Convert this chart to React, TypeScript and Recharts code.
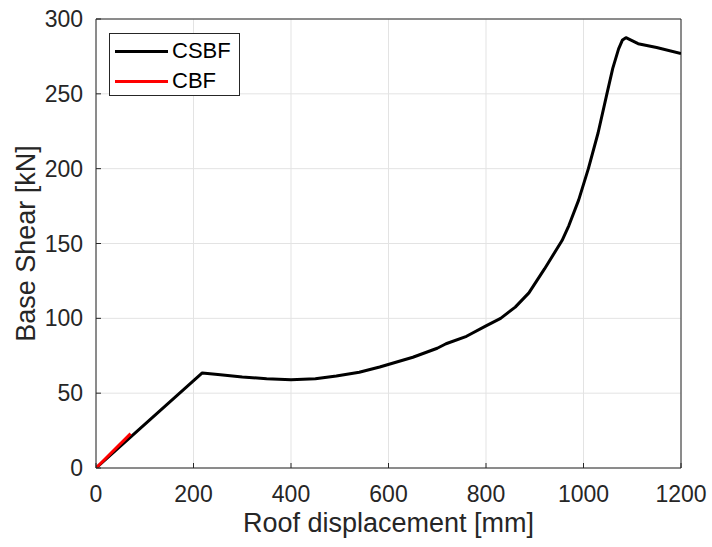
import {
  LineChart,
  Line,
  XAxis,
  YAxis,
  CartesianGrid,
  ReferenceLine,
} from "recharts";

// CSBF pushover curve
const csbfDisp = [0, 218, 250, 300, 350, 400, 450, 493, 540, 582, 650, 700, 718, 760, 800, 830, 860, 888, 920, 956, 970, 990, 1010, 1030, 1048, 1060, 1072, 1080, 1087, 1112, 1150, 1200];
const csbfShear = [0, 63.5, 62.5, 60.8, 59.6, 58.9, 59.6, 61.5, 64, 67.5, 74, 80, 83, 88, 95, 100, 107.5, 117, 133, 152, 162, 179, 200, 224, 250, 267, 280, 286, 287.5, 283.5, 281, 277];

// CBF curve
const cbfDisp = [0, 71];
const cbfShear = [0, 23];

const xTicks = [0, 200, 400, 600, 800, 1000, 1200];
const yTicks = [0, 50, 100, 150, 200, 250, 300];

const seriesNames = ["CSBF", "CBF"];
const seriesColors = ["#000000", "#ff0000"];

const csbfData = csbfDisp.map((x, i) => ({ x, y: csbfShear[i] }));
const cbfData = cbfDisp.map((x, i) => ({ x, y: cbfShear[i] }));

const FONT = "'Liberation Sans', Arial, Helvetica, sans-serif";
const TEXT = "#262626";

function LegendBox() {
  return (
    <div
      style={{
        position: "absolute",
        left: 109,
        top: 33,
        width: 131,
        height: 63,
        border: "1px solid #262626",
        background: "#fff",
        boxSizing: "border-box",
        fontFamily: FONT,
        fontSize: 22,
        color: "#000",
        padding: "2px 0 0 5px",
      }}
    >
      {seriesNames.map((name, i) => (
        <div key={name} style={{ display: "flex", alignItems: "center", height: 30 }}>
          <div style={{ width: 53, height: 3, background: seriesColors[i], marginRight: 4 }} />
          <span>{name}</span>
        </div>
      ))}
    </div>
  );
}

export default function App() {
  return (
    <div style={{ position: "absolute", left: 0, top: 0, width: 712, height: 547, background: "#fff" }}>
      <LineChart
        width={712}
        height={547}
        margin={{ top: 19, right: 31, bottom: 0, left: 0 }}
        style={{ fontFamily: FONT }}
      >
        <CartesianGrid stroke="#e3e3e3" strokeWidth={1} />
        <XAxis
          dataKey="x"
          type="number"
          domain={[0, 1200]}
          ticks={xTicks}
          allowDataOverflow
          height={79}
          stroke={TEXT}
          tickSize={-5}
          tickMargin={23}
          tick={{ fill: TEXT, fontSize: 23 }}
          label={{
            value: "Roof displacement [mm]",
            position: "insideBottom",
            offset: 15,
            fill: TEXT,
            fontSize: 27,
          }}
        />
        <YAxis
          dataKey="y"
          type="number"
          domain={[0, 300]}
          ticks={yTicks}
          allowDataOverflow
          width={96}
          stroke={TEXT}
          tickSize={-5}
          tickMargin={18}
          tick={{ fill: TEXT, fontSize: 23 }}
          label={{
            value: "Base Shear [kN]",
            angle: -90,
            position: "insideLeft",
            offset: 25,
            style: { textAnchor: "middle" },
            fill: TEXT,
            fontSize: 27,
          }}
        />
        <ReferenceLine y={300} stroke={TEXT} strokeWidth={1} />
        <ReferenceLine x={1200} stroke={TEXT} strokeWidth={1} />
        <Line
          data={csbfData}
          dataKey="y"
          name={seriesNames[0]}
          type="linear"
          stroke={seriesColors[0]}
          strokeWidth={3}
          strokeLinejoin="round"
          dot={false}
          isAnimationActive={false}
        />
        <Line
          data={cbfData}
          dataKey="y"
          name={seriesNames[1]}
          type="linear"
          stroke={seriesColors[1]}
          strokeWidth={3}
          dot={false}
          isAnimationActive={false}
        />
      </LineChart>
      <LegendBox />
    </div>
  );
}
